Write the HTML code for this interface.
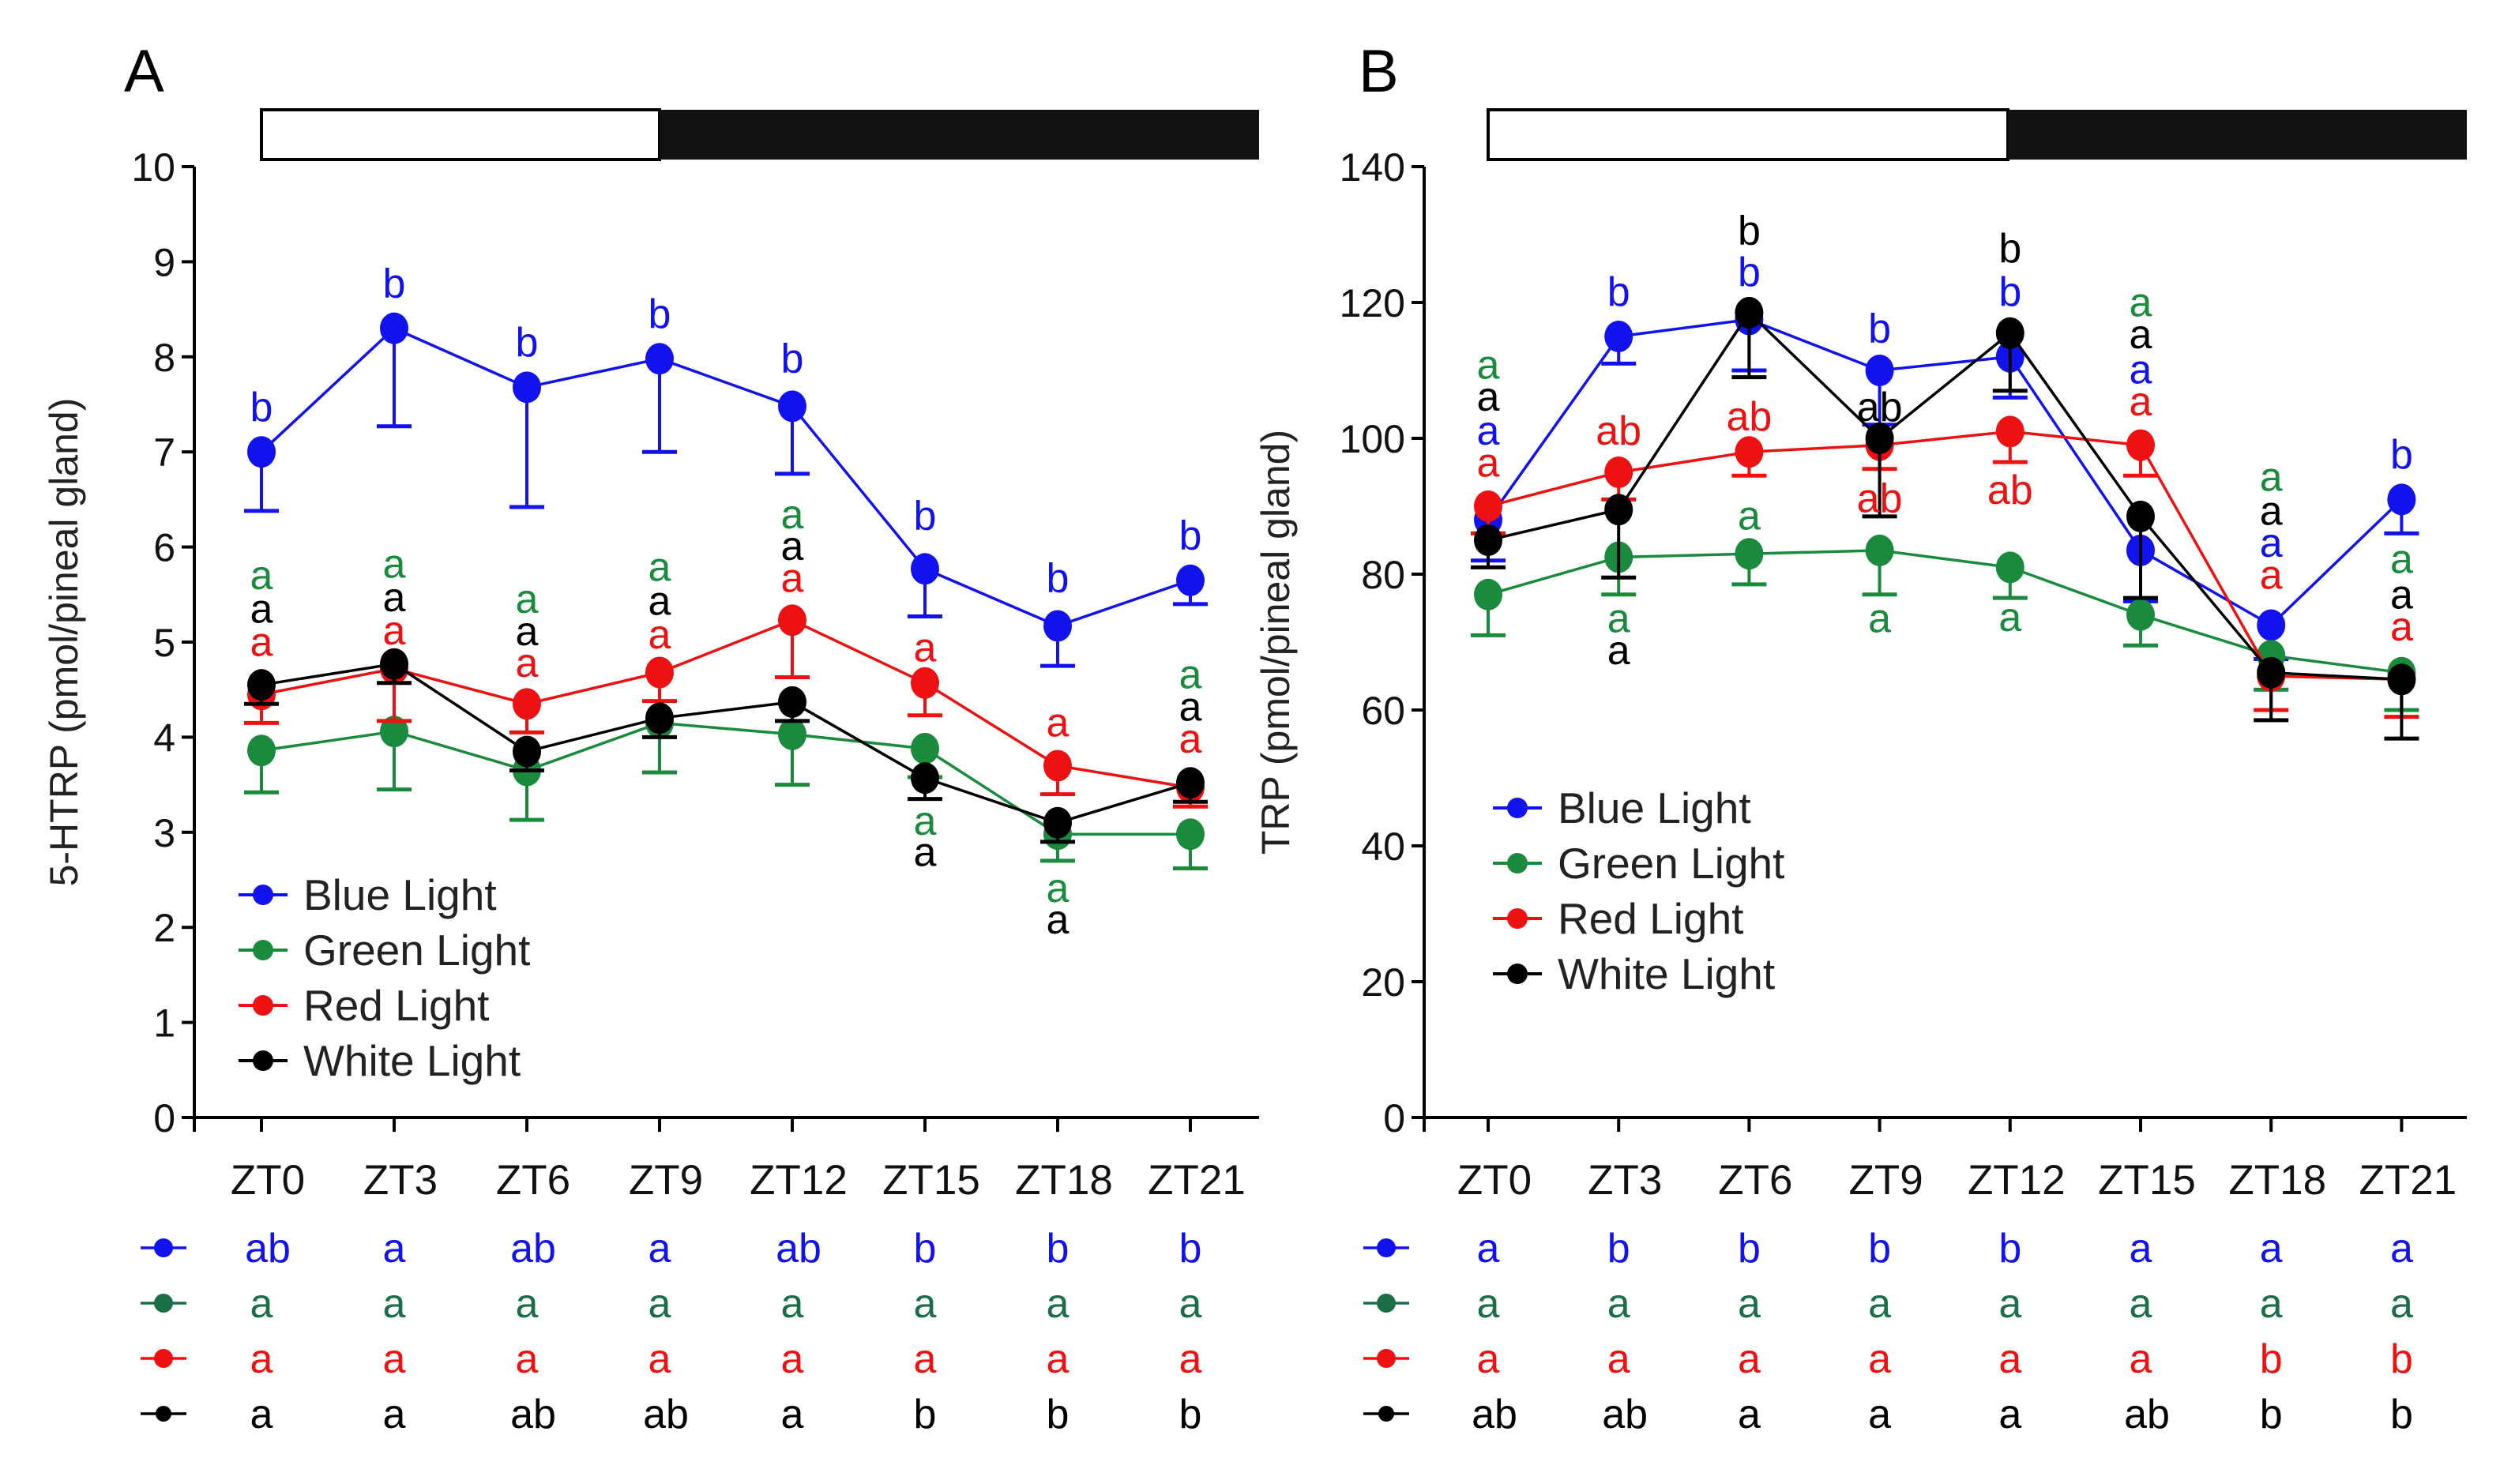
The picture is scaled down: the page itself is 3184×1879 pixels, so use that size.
<!DOCTYPE html>
<html><head><meta charset="utf-8"><style>
html,body{margin:0;padding:0;background:#fff;}
svg{display:block;font-family:"Liberation Sans",Arial,sans-serif;}
</style></head><body>
<svg id="fig" width="3184" height="1879" viewBox="0 0 3184 1879" xmlns="http://www.w3.org/2000/svg"></svg>
<script>
const categories = ["ZT0","ZT3","ZT6","ZT9","ZT12","ZT15","ZT18","ZT21"];
const seriesNames = ["Blue Light","Green Light","Red Light","White Light"];
const colors = ["#1212ee","#1a8a3c","#ee1111","#000000"];
// Panel A: 5-HTRP
const aBlue  = [7.0, 8.3, 7.68, 7.98, 7.48, 5.77, 5.17, 5.65];
const aGreen = [3.86, 4.06, 3.65, 4.15, 4.03, 3.88, 2.98, 2.98];
const aRed   = [4.45, 4.72, 4.35, 4.68, 5.23, 4.57, 3.7, 3.47];
const aWhite = [4.55, 4.77, 3.85, 4.2, 4.37, 3.57, 3.1, 3.52];
const aBlueErr  = [0.62, 1.03, 1.26, 0.98, 0.71, 0.5, 0.42, 0.25];
const aGreenErr = [0.44, 0.61, 0.52, 0.52, 0.53, 0.3, 0.28, 0.36];
const aRedErr   = [0.3, 0.55, 0.3, 0.3, 0.6, 0.34, 0.3, 0.2];
const aWhiteErr = [0.2, 0.2, 0.2, 0.2, 0.2, 0.22, 0.2, 0.2];
const aTicks = [0,1,2,3,4,5,6,7,8,9,10];
// Panel B: TRP
const bBlue  = [88, 115, 117.5, 110, 112, 83.5, 72.5, 91];
const bGreen = [77, 82.5, 83, 83.5, 81, 74, 68, 65.5];
const bRed   = [90, 95, 98, 99, 101, 99, 65, 64.5];
const bWhite = [85, 89.5, 118.5, 100, 115.5, 88.5, 65.5, 64.5];
const bBlueErr  = [6, 4, 7.5, 8, 6, 7.5, 5, 5];
const bGreenErr = [6, 5.5, 4.5, 6.5, 4.5, 4.5, 5, 5.5];
const bRedErr   = [4, 4, 3.5, 3.5, 4.5, 4.5, 5, 5.5];
const bWhiteErr = [4, 10, 9.5, 11.5, 8.5, 12, 7, 8.7];
const bTicks = [0,20,40,60,80,100,120,140];
// annotations: [xIndex, value, text, colorIndex]
const aAnn = [
 [0,7.45,"b",0],[0,5.68,"a",1],[0,5.33,"a",3],[0,4.98,"a",2],
 [1,8.75,"b",0],[1,5.8,"a",1],[1,5.45,"a",3],[1,5.1,"a",2],
 [2,8.13,"b",0],[2,5.43,"a",1],[2,5.09,"a",3],[2,4.76,"a",2],
 [3,8.43,"b",0],[3,5.77,"a",1],[3,5.41,"a",3],[3,5.06,"a",2],
 [4,7.96,"b",0],[4,6.32,"a",1],[4,5.99,"a",3],[4,5.65,"a",2],
 [5,6.31,"b",0],[5,4.92,"a",2],[5,3.1,"a",1],[5,2.77,"a",3],
 [6,5.65,"b",0],[6,4.13,"a",2],[6,2.39,"a",1],[6,2.06,"a",3],
 [7,6.1,"b",0],[7,4.64,"a",1],[7,4.3,"a",3],[7,3.96,"a",2]];
const bAnn = [
 [0,110.5,"a",1],[0,105.8,"a",3],[0,100.8,"a",0],[0,96.1,"a",2],
 [1,121.3,"b",0],[1,100.8,"ab",2],[1,73.2,"a",1],[1,68.5,"a",3],
 [2,130.3,"b",3],[2,124.2,"b",0],[2,102.9,"ab",2],[2,88.3,"a",1],
 [3,115.9,"b",0],[3,104.3,"ab",3],[3,90.9,"ab",2],[3,73.2,"a",1],
 [4,127.7,"b",3],[4,121.3,"b",0],[4,92.1,"ab",2],[4,73.4,"a",1],
 [5,119.7,"a",1],[5,115,"a",3],[5,109.8,"a",0],[5,105.1,"a",2],
 [6,94,"a",1],[6,89,"a",3],[6,84.3,"a",0],[6,79.6,"a",2],
 [7,97.3,"b",0],[7,81.9,"a",1],[7,76.7,"a",3],[7,72,"a",2]];
const aRows = [["ab","a","ab","a","ab","b","b","b"],["a","a","a","a","a","a","a","a"],["a","a","a","a","a","a","a","a"],["a","a","ab","ab","a","b","b","b"]];
const bRows = [["a","b","b","b","b","a","a","a"],["a","a","a","a","a","a","a","a"],["a","a","a","a","a","a","b","b"],["ab","ab","a","a","a","ab","b","b"]];

const NS="http://www.w3.org/2000/svg";
const svg=document.getElementById('fig');
function mk(tag,attrs,parent,text){const e=document.createElementNS(NS,tag);for(const k in attrs)e.setAttribute(k,attrs[k]);if(text!==undefined)e.textContent=text;(parent||svg).appendChild(e);return e;}

function panel(cfg){
  const g=mk('g',{});
  
  
  const yS=v=>cfg.y0-(v-cfg.vmin)/(cfg.vmax-cfg.vmin)*(cfg.y0-cfg.y1);
  const xS=i=>cfg.x0+i*cfg.dx;
  const lab=mk('text',{x:cfg.labX,y:116,'font-size':76,fill:'#000'},g,cfg.letter);
  
  
  const bw=mk('rect',{x:xS(0),y:139,width:cfg.lightEnd-xS(0),height:63,fill:'#fff',stroke:'#000','stroke-width':4},g);
  
  
  const bd=mk('rect',{x:cfg.lightEnd,y:139,width:cfg.xr-cfg.lightEnd,height:63,fill:'#111'},g);
  
  
  const ya=mk('line',{x1:cfg.ax,y1:yS(cfg.vmax),x2:cfg.ax,y2:cfg.y0+2,stroke:'#000','stroke-width':4},g);
  
  
  const xa=mk('line',{x1:cfg.ax-2,y1:cfg.y0,x2:cfg.xr,y2:cfg.y0,stroke:'#000','stroke-width':4},g);
  
  
  mk('line',{x1:cfg.ax,y1:cfg.y0,x2:cfg.ax,y2:cfg.y0+18,stroke:'#000','stroke-width':4},g);
  cfg.ticks.forEach(t=>{
    mk('line',{x1:cfg.ax-16,y1:yS(t),x2:cfg.ax,y2:yS(t),stroke:'#000','stroke-width':4},g);
    const tl=mk('text',{x:cfg.ax-24,y:yS(t)+18,'font-size':50,'text-anchor':'end',fill:'#111'},g,String(t));
    
    
  });
  categories.forEach((c,i)=>{
    mk('line',{x1:xS(i),y1:cfg.y0,x2:xS(i),y2:cfg.y0+18,stroke:'#000','stroke-width':4},g);
    const xl=mk('text',{x:xS(i)+8,y:1512,'font-size':53,'text-anchor':'middle',fill:'#111'},g,c);
    
    
  });
  const yt=mk('text',{x:0,y:0,'font-size':50,'text-anchor':'middle',fill:'#222',transform:`translate(${cfg.titleX},${(yS(cfg.vmax)+cfg.y0)/2}) rotate(-90)`},g,cfg.title);
  
  
  cfg.series.forEach((s,k)=>{
    const sg=mk('g',{},g);
    
    
    s.vals.forEach((v,i)=>{
      const x=xS(i);
      mk('line',{x1:x,y1:yS(v),x2:x,y2:yS(v-s.err[i]),stroke:colors[k],'stroke-width':4},sg);
      mk('line',{x1:x-22,y1:yS(v-s.err[i]),x2:x+22,y2:yS(v-s.err[i]),stroke:colors[k],'stroke-width':5},sg);
    });
    mk('polyline',{points:s.vals.map((v,i)=>xS(i)+','+yS(v)).join(' '),fill:'none',stroke:colors[k],'stroke-width':3.5},sg);
    s.vals.forEach((v,i)=>{
      const p=mk('ellipse',{cx:xS(i),cy:yS(v),rx:18,ry:20,fill:colors[k]},sg);
      
      
    });
  });
  cfg.ann.forEach(a=>{
    const t=mk('text',{x:xS(a[0]),y:yS(a[1])+15,'font-size':52,'text-anchor':'middle',fill:colors[a[3]]},g,a[2]);
    
    
  });
  seriesNames.forEach((n,k)=>{
    const ly=cfg.legY+k*70;
    const lg=mk('g',{},g);
    
    
    mk('line',{x1:cfg.legX,y1:ly,x2:cfg.legX+62,y2:ly,stroke:colors[k],'stroke-width':4},lg);
    mk('circle',{cx:cfg.legX+31,cy:ly,r:13,fill:colors[k]},lg);
    mk('text',{x:cfg.legX+82,y:ly+19,'font-size':55,fill:'#222'},lg,n);
  });
  const rowY=[1580,1650,1720,1790];
  const rowCol=["#1212ee","#1a6e48","#ee1111","#000"];
  cfg.rows.forEach((r,k)=>{
    const rg=mk('g',{},g);
    
    
    mk('line',{x1:cfg.rowX,y1:rowY[k],x2:cfg.rowX+58,y2:rowY[k],stroke:rowCol[k],'stroke-width':3.5},rg);
    mk('circle',{cx:cfg.rowX+29,cy:rowY[k],r:k==3?10:12,fill:rowCol[k]},rg);
    r.forEach((t,i)=>mk('text',{x:xS(i)+(t.length>1?8:0),y:rowY[k]+18,'font-size':52,'text-anchor':'middle',fill:rowCol[k]},rg,t));
  });
}
panel({id:'panel-a',letter:'A',labX:157,x0:331,dx:168,ax:246,xr:1594,lightEnd:835,y0:1415,y1:211,vmin:0,vmax:10,ticks:aTicks,
 title:'5-HTRP (pmol/pineal gland)',titleX:98,legX:302,legY:1133,rowX:178,rows:aRows,ann:aAnn,
 series:[{vals:aBlue,err:aBlueErr},{vals:aGreen,err:aGreenErr},{vals:aRed,err:aRedErr},{vals:aWhite,err:aWhiteErr}]});
panel({id:'panel-b',letter:'B',labX:1720,x0:1884,dx:165.2,ax:1803,xr:3123,lightEnd:2542,y0:1415,y1:211,vmin:0,vmax:140,ticks:bTicks,
 title:'TRP (pmol/pineal gland)',titleX:1632,legX:1890,legY:1023,rowX:1726,rows:bRows,ann:bAnn,
 series:[{vals:bBlue,err:bBlueErr},{vals:bGreen,err:bGreenErr},{vals:bRed,err:bRedErr},{vals:bWhite,err:bWhiteErr}]});
</script>
</body></html>
